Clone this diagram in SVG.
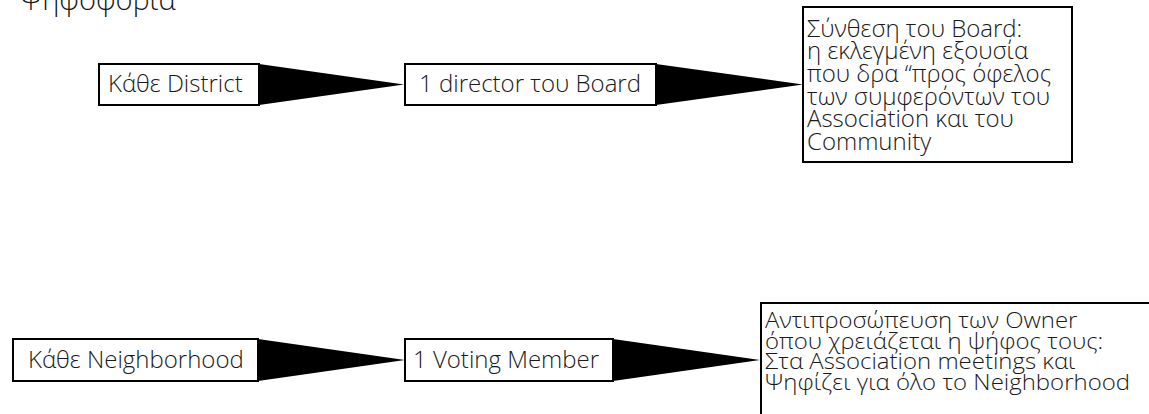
<svg xmlns="http://www.w3.org/2000/svg" width="1149" height="414" viewBox="0 0 1149 414">
<style>
.box{fill:#fff;stroke:#000;stroke-width:2}
.t{font-family:"Open Sans","Noto Sans","Liberation Sans",sans-serif;font-weight:300;fill:#1a1a1a}
.s{font-size:24px}
.m{font-size:24px}
.b{font-size:22px}
.arrow{fill:#000;stroke:none}
</style>
<rect width="1149" height="414" fill="#fff"/>
<text class="t" x="20" y="9.5" style="font-size:29px">Ψηφοφορία</text>
<g id="connectors">
<polygon class="arrow" points="259,64 404,84.5 259,105"/>
<polygon class="arrow" points="656,64 803,84.5 656,105"/>
<polygon class="arrow" points="258,339 405,360 258,381"/>
<polygon class="arrow" points="613,339 760,360 613,381"/>
</g>
<g id="district">
<rect class="box" x="99" y="64" width="160" height="41"/>
<text class="t s" x="108" y="92">Κάθε District</text>
</g>
<g id="director">
<rect class="box" x="405" y="64" width="251" height="41"/>
<text class="t s" x="419" y="92">1 director του Board</text>
</g>
<g id="board">
<rect class="box" x="803" y="7" width="269" height="155"/>
<text class="t m">
<tspan x="807" y="36.5">Σύνθεση του Board:</tspan>
<tspan x="807" y="59.2">η εκλεγμένη εξουσία</tspan>
<tspan x="807" y="81.9">που δρα “προς όφελος</tspan>
<tspan x="807" y="104.6">των συμφερόντων του</tspan>
<tspan x="807" y="127.3">Association και του</tspan>
<tspan x="807" y="150">Community</tspan>
</text>
</g>
<g id="neighborhood">
<rect class="box" x="13" y="339" width="245" height="42"/>
<text class="t s" x="28" y="368">Κάθε Neighborhood</text>
</g>
<g id="voting">
<rect class="box" x="405" y="339" width="208" height="42"/>
<text class="t s" x="413" y="368">1 Voting Member</text>
</g>
<g id="representation">
<rect class="box" x="761" y="303" width="400" height="130"/>
<text class="t b" transform="translate(765,0) scale(1.09,1) translate(-765,0)">
<tspan x="765" y="328.5">Αντιπροσώπευση των Owner</tspan>
<tspan x="765" y="349">όπου χρειάζεται η ψήφος τους:</tspan>
<tspan x="765" y="369.5">Στα Association meetings και</tspan>
<tspan x="765" y="390">Ψηφίζει για όλο το Neighborhood</tspan>
</text>
</g>
</svg>
